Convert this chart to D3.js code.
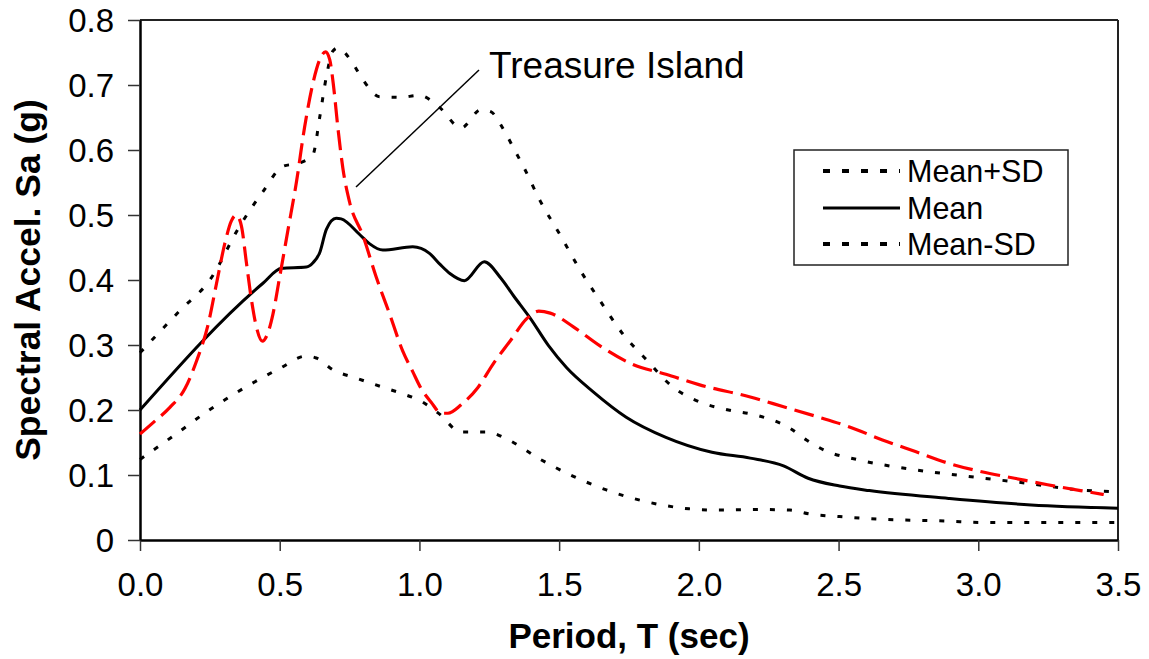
<!DOCTYPE html>
<html><head><meta charset="utf-8">
<script src="https://cdn.jsdelivr.net/npm/d3@7"></script>
<style>
html,body{margin:0;padding:0;background:#fff;}
svg{display:block;font-family:Arial,"Liberation Sans",sans-serif;}
</style></head>
<body><svg id="c" width="1149" height="659"></svg>
<script>
// Data (Period T in sec, Sa in g)
const meanT  = [0,0.44,0.506,0.595,0.62,0.643,0.667,0.702,0.72,0.786,0.821,0.869,0.976,1.036,1.074,1.109,1.161,1.232,1.291,1.338,1.397,1.462,1.527,1.622,1.74,1.882,2.047,2.184,2.303,2.391,2.504,2.61,2.894,3.189,3.5];
const meanSa = [0.2,0.395,0.418,0.42,0.427,0.442,0.478,0.495,0.494,0.47,0.456,0.446,0.451,0.441,0.424,0.41,0.399,0.428,0.403,0.375,0.341,0.299,0.265,0.228,0.189,0.158,0.135,0.126,0.114,0.095,0.083,0.076,0.064,0.054,0.049];

const plusT  = [0,0.143,0.25,0.357,0.44,0.512,0.571,0.619,0.643,0.667,0.69,0.708,0.756,0.798,0.857,0.929,1.0,1.071,1.149,1.22,1.255,1.303,1.338,1.374,1.433,1.504,1.574,1.645,1.728,1.811,1.905,2.0,2.106,2.207,2.326,2.385,2.45,2.574,2.775,3.0,3.142,3.366,3.5];
const plusSa = [0.288,0.353,0.4,0.483,0.536,0.575,0.58,0.593,0.65,0.713,0.752,0.757,0.737,0.708,0.682,0.681,0.684,0.666,0.634,0.662,0.659,0.63,0.602,0.573,0.521,0.469,0.416,0.369,0.317,0.278,0.236,0.213,0.2,0.192,0.172,0.154,0.138,0.123,0.108,0.096,0.089,0.077,0.074];

const minusT  = [0,0.119,0.238,0.381,0.5,0.595,0.631,0.69,0.774,0.869,0.94,1.012,1.071,1.149,1.243,1.314,1.433,1.551,1.669,1.811,1.965,2.071,2.213,2.326,2.397,2.504,2.657,2.894,3.012,3.5];
const minusSa = [0.124,0.16,0.197,0.236,0.264,0.283,0.28,0.262,0.249,0.235,0.225,0.212,0.194,0.166,0.166,0.155,0.124,0.098,0.077,0.059,0.048,0.046,0.047,0.046,0.04,0.036,0.032,0.029,0.027,0.027];

const tiT  = [0,0.048,0.107,0.161,0.202,0.244,0.274,0.304,0.327,0.345,0.363,0.381,0.399,0.417,0.438,0.458,0.476,0.5,0.53,0.56,0.589,0.619,0.643,0.664,0.679,0.693,0.708,0.726,0.75,0.798,0.845,0.893,0.94,0.976,1.006,1.042,1.078,1.102,1.149,1.208,1.267,1.326,1.385,1.427,1.468,1.551,1.645,1.764,1.882,2.0,2.184,2.303,2.421,2.539,2.657,2.775,2.894,3.012,3.13,3.248,3.366,3.449];
const tiSa = [0.163,0.181,0.204,0.233,0.275,0.332,0.395,0.457,0.491,0.5,0.483,0.426,0.369,0.327,0.306,0.319,0.348,0.405,0.478,0.551,0.635,0.703,0.739,0.751,0.739,0.697,0.635,0.572,0.52,0.468,0.405,0.348,0.291,0.259,0.233,0.212,0.195,0.195,0.208,0.234,0.273,0.307,0.341,0.352,0.349,0.328,0.299,0.27,0.255,0.239,0.22,0.205,0.19,0.174,0.154,0.136,0.118,0.105,0.095,0.085,0.076,0.07];

const xTicks = [0,0.5,1.0,1.5,2.0,2.5,3.0,3.5];
const yTicks = [0,0.1,0.2,0.3,0.4,0.5,0.6,0.7,0.8];
const legendLabels = ["Mean+SD","Mean","Mean-SD"];

const svg = d3.select("#c");
const L=140, R=1118, T=20, B=540;
const x = d3.scaleLinear().domain([0,3.5]).range([L,R]);
const y = d3.scaleLinear().domain([0,0.8]).range([B,T]);

// frame top/right
svg.append("line").attr("x1",L).attr("x2",R).attr("y1",T).attr("y2",T).attr("stroke","#222").attr("stroke-width",2);
svg.append("line").attr("x1",R).attr("x2",R).attr("y1",T).attr("y2",B).attr("stroke","#222").attr("stroke-width",2);

// axes
const xAx = svg.append("g").attr("transform",`translate(0,${B})`)
  .call(d3.axisBottom(x).tickValues(xTicks).tickFormat(d3.format(".1f")).tickSize(11).tickSizeOuter(0).tickPadding(22));
const yAx = svg.append("g").attr("transform",`translate(${L},0)`)
  .call(d3.axisLeft(y).tickValues(yTicks).tickFormat(d=>d===0?"0":d3.format(".1f")(d)).tickSize(12).tickSizeOuter(0).tickPadding(14));
[xAx,yAx].forEach(g=>{
  g.select(".domain").attr("stroke","#000").attr("stroke-width",2.5);
  g.selectAll(".tick line").attr("stroke","#333").attr("stroke-width",1.5);
  g.selectAll(".tick text").attr("font-size",33).attr("fill","#000").attr("font-family","Arial, 'Liberation Sans', sans-serif");
});
yAx.selectAll(".tick text").attr("dy","0.35em");

// titles
svg.append("text").attr("x",(L+R)/2).attr("y",648).attr("text-anchor","middle")
  .attr("font-size",35).attr("font-weight","bold").text("Period, T (sec)");
svg.append("text").attr("transform",`translate(40,${(T+B)/2}) rotate(-90)`).attr("text-anchor","middle")
  .attr("font-size",35.5).attr("font-weight","bold").text("Spectral Accel. Sa (g)");

const line = d3.line().x(d=>x(d[0])).y(d=>y(d[1])).curve(d3.curveMonotoneX);
const zip=(a,b)=>a.map((v,i)=>[v,b[i]]);

const g = svg.append("g");
g.append("path").datum(zip(minusT,minusSa)).attr("d",line).attr("fill","none").attr("stroke","#000").attr("stroke-width",3).attr("stroke-dasharray","5,12");
g.append("path").datum(zip(plusT,plusSa)).attr("d",line).attr("fill","none").attr("stroke","#000").attr("stroke-width",3).attr("stroke-dasharray","5,12");
g.append("path").datum(zip(meanT,meanSa)).attr("d",line).attr("fill","none").attr("stroke","#000").attr("stroke-width",3);
g.append("path").datum(zip(tiT,tiSa)).attr("d",line).attr("fill","none").attr("stroke","#ff0000").attr("stroke-width",3.2).attr("stroke-dasharray","20,8");

// annotation
svg.append("line").attr("x1",356).attr("y1",187).attr("x2",479).attr("y2",70).attr("stroke","#000").attr("stroke-width",1.5);
svg.append("text").attr("x",489).attr("y",78).attr("font-size",37).text("Treasure Island");

// legend
const lg = svg.append("g");
lg.append("rect").attr("x",794).attr("y",150).attr("width",274).attr("height",115).attr("fill","#fff").attr("stroke","#222").attr("stroke-width",1.5);
const rows=[171,208,244];
const dashes=["7,12",null,"7,12"];
legendLabels.forEach((lab,i)=>{
  const l=lg.append("line").attr("x1",823).attr("x2",900).attr("y1",rows[i]).attr("y2",rows[i]).attr("stroke","#000").attr("stroke-width",i===1?3:4);
  if(dashes[i]) l.attr("stroke-dasharray",dashes[i]);
  lg.append("text").attr("x",907).attr("y",rows[i]).attr("dy","0.36em").attr("font-size",30.5).text(lab);
});
</script></body></html>
